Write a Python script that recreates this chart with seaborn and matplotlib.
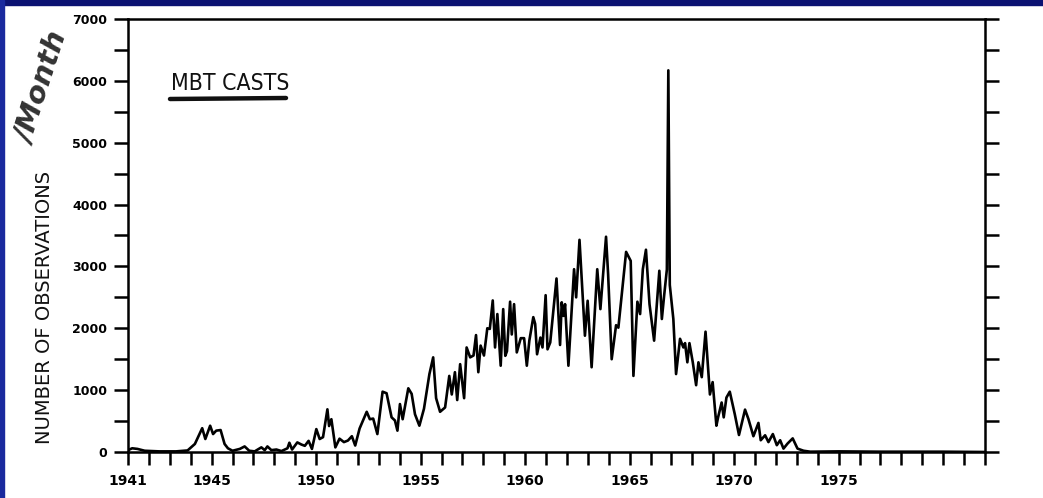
import matplotlib
matplotlib.use("Agg")
import matplotlib.pyplot as plt
from matplotlib.patches import Rectangle
from matplotlib.lines import Line2D
import seaborn as sns
import pandas as pd

# Monthly MBT cast counts (decimal year, observations per month)
time = [
    1941.00, 1941.20, 1941.45, 1941.80, 1942.50, 1943.30, 1943.85, 1944.20,
    1944.55, 1944.70, 1944.93, 1945.07, 1945.22, 1945.43, 1945.62, 1945.78,
    1946.00, 1946.35, 1946.58, 1946.80, 1947.06, 1947.38, 1947.54, 1947.67,
    1947.86, 1948.10, 1948.34, 1948.63, 1948.72, 1948.85, 1949.10, 1949.30,
    1949.46, 1949.64, 1949.80, 1950.01, 1950.17, 1950.33, 1950.54, 1950.62,
    1950.73, 1950.92, 1951.12, 1951.33, 1951.52, 1951.71, 1951.87, 1952.08,
    1952.42, 1952.57, 1952.73, 1952.93, 1953.18, 1953.37, 1953.61, 1953.77,
    1953.89, 1954.01, 1954.14, 1954.41, 1954.57, 1954.73, 1954.94, 1955.16,
    1955.42, 1955.60, 1955.74, 1955.93, 1956.17, 1956.37, 1956.49, 1956.64,
    1956.75, 1956.89, 1957.08, 1957.20, 1957.37, 1957.53, 1957.65, 1957.76,
    1957.87, 1958.03, 1958.19, 1958.31, 1958.45, 1958.56, 1958.67, 1958.83,
    1958.95, 1959.05, 1959.13, 1959.28, 1959.36, 1959.47, 1959.60, 1959.79,
    1959.95, 1960.08, 1960.20, 1960.39, 1960.48, 1960.57, 1960.73, 1960.83,
    1960.98, 1961.07, 1961.20, 1961.50, 1961.67, 1961.75, 1961.83, 1961.91,
    1962.07, 1962.34, 1962.44, 1962.60, 1962.86, 1962.99, 1963.18, 1963.45,
    1963.60, 1963.87, 1963.97, 1964.14, 1964.35, 1964.46, 1964.83, 1965.05,
    1965.18, 1965.37, 1965.50, 1965.63, 1965.78, 1965.95, 1966.17, 1966.42,
    1966.54, 1966.65, 1966.78, 1966.85, 1966.92, 1967.09, 1967.22, 1967.41,
    1967.57, 1967.65, 1967.76, 1967.86, 1968.02, 1968.18, 1968.29, 1968.45,
    1968.63, 1968.84, 1968.97, 1969.15, 1969.23, 1969.40, 1969.50, 1969.63,
    1969.79, 1970.03, 1970.23, 1970.52, 1970.68, 1970.92, 1971.16, 1971.27,
    1971.48, 1971.64, 1971.85, 1972.04, 1972.20, 1972.36, 1972.55, 1972.80,
    1973.03, 1973.32, 1973.64, 1975.00, 1977.00, 1980.00, 1982.00,
]
casts = [
    30, 60, 50, 20, 10, 10, 25, 130,
    385, 210, 425, 290, 345, 355, 130, 60,
    20, 50, 90, 20, 10, 75, 30, 90,
    30, 40, 15, 60, 150, 40, 155, 120,
    100, 180, 50, 370, 210, 240, 690, 420,
    530, 75, 215, 160, 185, 255, 105, 380,
    650, 530, 540, 290, 975, 950, 560, 510,
    345, 775, 530, 1030, 940, 610, 425, 700,
    1260, 1530, 870, 650, 720, 1230, 930, 1290,
    840, 1420, 870, 1690, 1530, 1560, 1890, 1290,
    1720, 1560, 2000, 1990, 2450, 1690, 2230, 1395,
    2310, 1555, 1630, 2430, 1900, 2390, 1610, 1840,
    1840, 1395, 1800, 2180, 2070, 1580, 1850, 1690,
    2535, 1660, 1770, 2805, 1730, 2420, 2200, 2390,
    1395, 2955, 2500, 3430, 1880, 2445, 1370, 2955,
    2310, 3480, 2870, 1500, 2050, 2010, 3235, 3090,
    1230, 2430, 2230, 2955, 3270, 2390, 1800, 2930,
    2150, 2530, 2950, 6170, 2700, 2150, 1260, 1830,
    1690, 1760, 1450, 1760, 1450, 1080, 1450, 1210,
    1945, 930, 1130, 425, 560, 800, 560, 880,
    975, 610, 275, 685, 535, 255, 470, 190,
    270, 160, 290, 110, 190, 55, 135, 220,
    55, 20, 5, 10, 5, 5, 0,
]

year_ticks = list(range(1941, 1983))
year_labels = [str(y) if (y == 1941 or (y % 5 == 0 and y <= 1975)) else "" for y in year_ticks]
count_ticks = list(range(0, 7001, 500))
count_labels = [str(v) if v % 1000 == 0 else "" for v in count_ticks]

df = pd.DataFrame({"year": time, "casts": casts})

sns.set_theme(style="ticks")
plt.rcParams["font.family"] = ["DejaVu Sans"]

W, H = 1043, 498
fig = plt.figure(figsize=(W / 100, H / 100), dpi=100, facecolor="white")
ax = fig.add_axes([128 / W, 46 / H, (985 - 128) / W, (452 - 19) / H])
ax.set_facecolor("white")

sns.lineplot(data=df, x="year", y="casts", ax=ax, color="black",
             linewidth=1.9, estimator=None, sort=False)

ax.set_xlim(1941, 1982)
ax.set_ylim(0, 7000)
ax.set_xticks(year_ticks)
ax.set_xticklabels(year_labels, fontsize=10, fontweight="bold")
ax.set_yticks(count_ticks)
ax.set_yticklabels(count_labels, fontsize=9, fontweight="bold")
ax.set_xlabel("")
ax.set_ylabel("")

for side in ["left", "right", "top", "bottom"]:
    ax.spines[side].set_visible(True)
    ax.spines[side].set_color("black")
    ax.spines[side].set_linewidth(1.8)

ax.tick_params(axis="x", direction="out", length=9, width=1.8, pad=7, colors="black")
ax.tick_params(axis="y", direction="out", length=10, width=1.8, pad=5,
               colors="black", right=True, labelright=False)

# Title with a hand-drawn style underline
fig.text(230 / W, (498 - 83) / H, "MBT CASTS", ha="center", va="center",
         fontsize=16.5, family="DejaVu Sans", fontstretch="condensed",
         color="#111111")
fig.add_artist(Line2D([170 / W, 286 / W], [(498 - 99) / H, (498 - 98) / H],
                      transform=fig.transFigure, color="#111111",
                      linewidth=3.2, solid_capstyle="round"))

# Vertical axis caption
fig.text(45 / W, (498 - 307) / H, "NUMBER OF OBSERVATIONS", rotation=90,
         ha="center", va="center", fontsize=14, color="#111111")
fig.text(43 / W, (498 - 88) / H, "/Month", rotation=72, ha="center",
         va="center", fontsize=21, style="italic", fontweight="bold",
         color="#333333")

# Blue frame along the top and left edges
fig.patches.append(Rectangle((0, 1 - 5 / H), 1, 5 / H, transform=fig.transFigure,
                             color="#0b1272", zorder=10))
fig.patches.append(Rectangle((0, 0), 4 / W, 1, transform=fig.transFigure,
                             color="#1a2a9e", zorder=10))

fig.savefig("out.png", dpi=100, facecolor="white")
